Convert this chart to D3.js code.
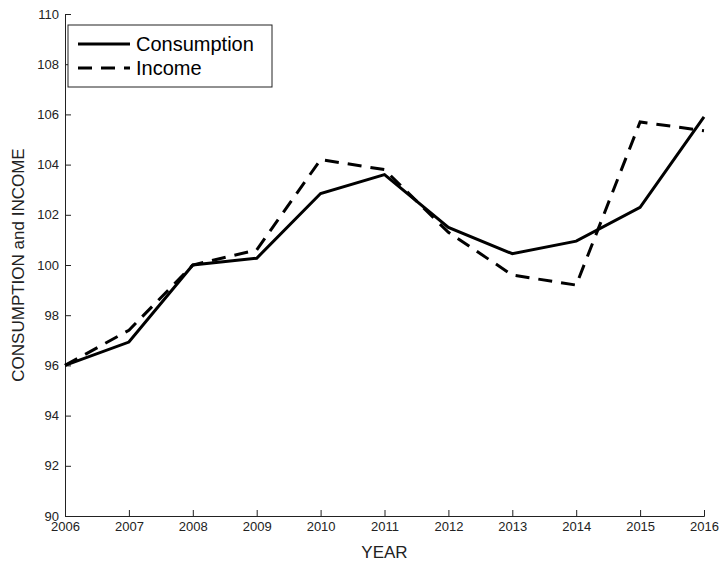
<!DOCTYPE html>
<html>
<head>
<meta charset="utf-8">
<script src="https://cdn.jsdelivr.net/npm/d3@7"></script>
<style>
  body { margin: 0; background: #fff; }
  svg { display: block; font-family: "Liberation Sans", Arial, sans-serif; }
</style>
</head>
<body>
<script>
// data
var years = [2006, 2007, 2008, 2009, 2010, 2011, 2012, 2013, 2014, 2015, 2016];
var consumption = [96.0, 96.93, 100.0, 100.27, 102.85, 103.6, 101.5, 100.45, 100.95, 102.3, 105.9];
var income = [96.0, 97.4, 100.0, 100.6, 104.2, 103.8, 101.3, 99.6, 99.2, 105.7, 105.35];
var yTicks = [90, 92, 94, 96, 98, 100, 102, 104, 106, 108, 110];

var W = 719, H = 565;
var m = { left: 65, right: 15, top: 14, bottom: 49 };

var svg = d3.select('body').append('svg').attr('width', W).attr('height', H);

var x = d3.scaleLinear().domain([2006, 2016]).range([m.left, W - m.right]);
var y = d3.scaleLinear().domain([90, 110]).range([H - m.bottom, m.top]);

// axes with inward ticks
svg.append('g')
  .attr('transform', 'translate(0,' + (H - m.bottom) + ')')
  .call(d3.axisBottom(x).tickValues(years).tickFormat(d3.format('d')).tickSize(-6).tickPadding(6))
  .call(g => g.selectAll('text').attr('font-size', 13).attr('fill', '#222'));

svg.append('g')
  .attr('transform', 'translate(' + m.left + ',0)')
  .call(d3.axisLeft(y).tickValues(yTicks).tickSize(-6).tickPadding(6))
  .call(g => g.selectAll('text').attr('font-size', 13).attr('fill', '#222'));

svg.selectAll('.domain').attr('stroke', '#222');
svg.selectAll('.tick line').attr('stroke', '#222');

// axis labels
svg.append('text')
  .attr('x', (m.left + W - m.right) / 2).attr('y', H - 7)
  .attr('text-anchor', 'middle').attr('font-size', 17).attr('fill', '#222')
  .text('YEAR');

svg.append('text')
  .attr('transform', 'translate(24,' + ((m.top + H - m.bottom) / 2) + ') rotate(-90)')
  .attr('text-anchor', 'middle').attr('font-size', 17).attr('fill', '#222')
  .text('CONSUMPTION and INCOME');

var line = d3.line().x(d => x(d[0])).y(d => y(d[1]));

svg.append('path')
  .datum(d3.zip(years, consumption))
  .attr('d', line).attr('fill', 'none').attr('stroke', '#000').attr('stroke-width', 3);

svg.append('path')
  .datum(d3.zip(years, income))
  .attr('d', line).attr('fill', 'none').attr('stroke', '#000').attr('stroke-width', 3)
  .attr('stroke-dasharray', '14,9');

// legend
var lg = svg.append('g').attr('transform', 'translate(68,25)');
lg.append('rect').attr('width', 204).attr('height', 62)
  .attr('fill', '#fff').attr('stroke', '#222').attr('stroke-width', 1);
var items = [{ name: 'Consumption', dash: null }, { name: 'Income', dash: '14,9' }];
items.forEach(function (d, i) {
  var yy = 19 + i * 24;
  lg.append('line').attr('x1', 10).attr('x2', 62).attr('y1', yy).attr('y2', yy)
    .attr('stroke', '#000').attr('stroke-width', 3).attr('stroke-dasharray', d.dash);
  lg.append('text').attr('x', 68).attr('y', yy + 7).attr('font-size', 20).attr('fill', '#000').text(d.name);
});
</script>
</body>
</html>
